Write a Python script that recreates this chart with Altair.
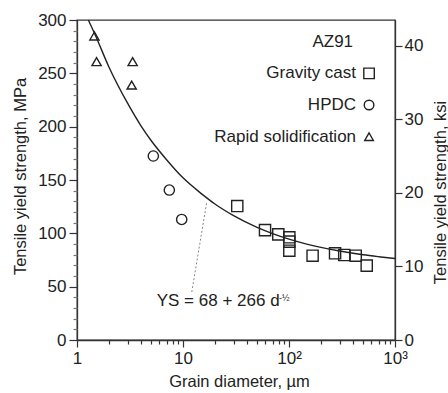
import altair as alt
import pandas as pd

# ---- data ----
gravity_d = [32.5, 59.4, 79.3, 100.7, 100.7, 100.7, 167, 272, 332, 426, 541]
gravity_ys = [125.6, 103, 99, 96.3, 92.2, 83.7, 79, 81.3, 79.7, 79, 69.7]
hpdc_d = [5.25, 7.43, 9.72]
hpdc_ys = [172.5, 140.6, 113]
rapid_d = [1.46, 1.53, 3.35, 3.28]
rapid_ys = [285, 261, 261, 239]

curve_d = [1.28, 1.5, 2, 3, 4, 5, 7, 10, 15, 20, 30, 50, 70, 100, 150, 200, 300, 500, 700, 1000]
curve_ys = [300, 285, 256, 222, 201, 187, 169, 152, 137, 127.5, 116.6, 105.6, 99.8, 94.6, 89.7, 86.8, 83.4, 79.9, 78.1, 76.4]

legend_labels = ["Gravity cast", "HPDC", "Rapid solidification"]
legend_shapes = ["square", "circle", "triangle-up"]
alloy_label = "AZ91"
equation_text = "YS = 68 + 266 d"
equation_exp = "-½"

x_major = [1, 10, 100, 1000]
x_minor = [2, 3, 4, 5, 6, 7, 8, 9, 20, 30, 40, 50, 60, 70, 80, 90,
           200, 300, 400, 500, 600, 700, 800, 900]
y_major = [0, 50, 100, 150, 200, 250, 300]
y_minor = [v for v in range(10, 300, 10) if v % 50]
ksi_major = [0, 10, 20, 30, 40]
MPA_PER_KSI = 6.894757

# annotation anchors (data units)
LEG_TEXT_X = 429
LEG_SYM_X = 569
LEG_Y = [250, 220.3, 190.6]
ALLOY_X, ALLOY_Y = 402, 279.7
EQ_X, EQ_Y = 5.65, 36.8
EXP_X, EXP_Y = 80.5, 39.6
LEADER = (12.1, 45, 16.7, 128.5)

FONT = "Liberation Sans"
INK = "#222222"

XS = alt.Scale(type="log", domain=[1, 1000], nice=False)
YS = alt.Scale(domain=[0, 300], nice=False)

points_df = pd.DataFrame({
    "d": gravity_d + hpdc_d + rapid_d,
    "ys": gravity_ys + hpdc_ys + rapid_ys,
    "proc": ["Gravity cast"] * len(gravity_d) + ["HPDC"] * len(hpdc_d)
            + ["Rapid solidification"] * len(rapid_d),
})
curve_df = pd.DataFrame({"d": curve_d, "ys": curve_ys})
legend_df = pd.DataFrame({"label": legend_labels, "shape": legend_shapes, "y": LEG_Y})
ksi_df = pd.DataFrame({"ksi": ksi_major})

x_label_expr = ("datum.value == 1 ? '1' : datum.value == 10 ? '10' : "
                "datum.value == 100 ? '10²' : '10³'")

curve = alt.Chart(curve_df).mark_line(
    color=INK, strokeWidth=1.4, interpolate="monotone"
).encode(
    x=alt.X("d:Q", scale=XS, axis=alt.Axis(
        orient="bottom", values=x_major, labelExpr=x_label_expr,
        title="Grain diameter, µm", tickSize=7, labelPadding=3,
        labelFlush=False, labelOverlap=False,
        titleX=162, titleY=41, titleBaseline="middle")),
    y=alt.Y("ys:Q", scale=YS, axis=alt.Axis(
        orient="left", values=y_major, title="Tensile yield strength, MPa",
        tickSize=8, labelPadding=3, labelOverlap=False,
        titleX=-57, titleY=156, titleBaseline="middle", titleAngle=270)),
)

minor = alt.Chart(curve_df).mark_point(opacity=0).encode(
    x=alt.X("d:Q", scale=XS, axis=alt.Axis(
        orient="bottom", values=x_minor, labels=False, domain=False,
        tickSize=4, title=None)),
    y=alt.Y("ys:Q", scale=YS, axis=alt.Axis(
        orient="left", values=y_minor, labels=False, domain=False,
        tickSize=4, title=None, tickColor="#777777")),
)

right_axis = alt.Chart(ksi_df).mark_point(opacity=0).encode(
    y=alt.Y("ksi:Q", scale=alt.Scale(domain=[0, 300 / MPA_PER_KSI], nice=False),
            axis=alt.Axis(orient="right", values=ksi_major,
                          title="Tensile yield strength, ksi", tickSize=7,
                          labelPadding=2, labelOverlap=False,
                          titleX=45, titleY=172, titleBaseline="middle",
                          titleAngle=270)),
)

shape_scale = alt.Scale(domain=legend_labels, range=legend_shapes)

pts = alt.Chart(points_df).mark_point(
    filled=False, color=INK, strokeWidth=1.4, opacity=1
).encode(
    x=alt.X("d:Q", scale=XS, axis=None),
    y=alt.Y("ys:Q", scale=YS, axis=None),
    shape=alt.Shape("proc:N", scale=shape_scale, legend=None),
    size=alt.Size("proc:N", scale=alt.Scale(domain=legend_labels, range=[125, 85, 125]),
                  legend=None),
)

leader = alt.Chart(pd.DataFrame({"k": [0]})).mark_rule(
    color="#888888", strokeWidth=1, strokeDash=[2, 2]
).encode(
    x=alt.X(datum=LEADER[0], scale=XS, axis=None),
    y=alt.Y(datum=LEADER[1], scale=YS, axis=None),
    x2=alt.X2(datum=LEADER[2]),
    y2=alt.Y2(datum=LEADER[3]),
)

eq = alt.Chart(pd.DataFrame({"t": [equation_text]})).mark_text(
    align="left", baseline="middle", font=FONT, fontSize=17, color=INK
).encode(
    x=alt.X(datum=EQ_X, scale=XS, axis=None),
    y=alt.Y(datum=EQ_Y, scale=YS, axis=None),
    text="t:N",
)

eq_exp = alt.Chart(pd.DataFrame({"t": [equation_exp]})).mark_text(
    align="left", baseline="middle", font=FONT, fontSize=9, color=INK
).encode(
    x=alt.X(datum=EXP_X, scale=XS, axis=None),
    y=alt.Y(datum=EXP_Y, scale=YS, axis=None),
    text="t:N",
)

alloy = alt.Chart(pd.DataFrame({"t": [alloy_label]})).mark_text(
    align="right", baseline="middle", font=FONT, fontSize=17, color=INK
).encode(
    x=alt.X(datum=ALLOY_X, scale=XS, axis=None),
    y=alt.Y(datum=ALLOY_Y, scale=YS, axis=None),
    text="t:N",
)

leg_text = alt.Chart(legend_df).mark_text(
    align="right", baseline="middle", font=FONT, fontSize=17, color=INK
).encode(
    x=alt.X(datum=LEG_TEXT_X, scale=XS, axis=None),
    y=alt.Y("y:Q", scale=YS, axis=None),
    text="label:N",
)

leg_sym = alt.Chart(legend_df).mark_point(
    filled=False, color=INK, strokeWidth=1.4, opacity=1
).encode(
    x=alt.X(datum=LEG_SYM_X, scale=XS, axis=None),
    y=alt.Y("y:Q", scale=YS, axis=None),
    shape=alt.Shape("label:N", scale=shape_scale, legend=None),
    size=alt.Size("label:N", scale=alt.Scale(domain=legend_labels, range=[110, 75, 105]),
                  legend=None),
)

chart = alt.layer(
    curve, minor, right_axis, pts, leader, eq, eq_exp, alloy, leg_text, leg_sym
).resolve_scale(
    y="independent", shape="independent", size="independent"
).resolve_axis(
    x="independent", y="independent"
).properties(
    width=318, height=320,
    autosize=alt.AutoSizeParams(type="none"),
    padding={"left": 77, "top": 20, "right": 53, "bottom": 53},
    background="white",
).configure_axis(
    labelFont=FONT, titleFont=FONT, labelFontSize=17, titleFontSize=16.5,
    labelColor=INK, titleColor=INK, titleFontWeight="normal",
    domainColor="#333333", tickColor="#333333", domainWidth=1.3, tickWidth=1.2,
    grid=False,
).configure_view(stroke="#333333", strokeWidth=1.3)

chart.save("out.html", embed_options={"renderer": "svg", "actions": False})
